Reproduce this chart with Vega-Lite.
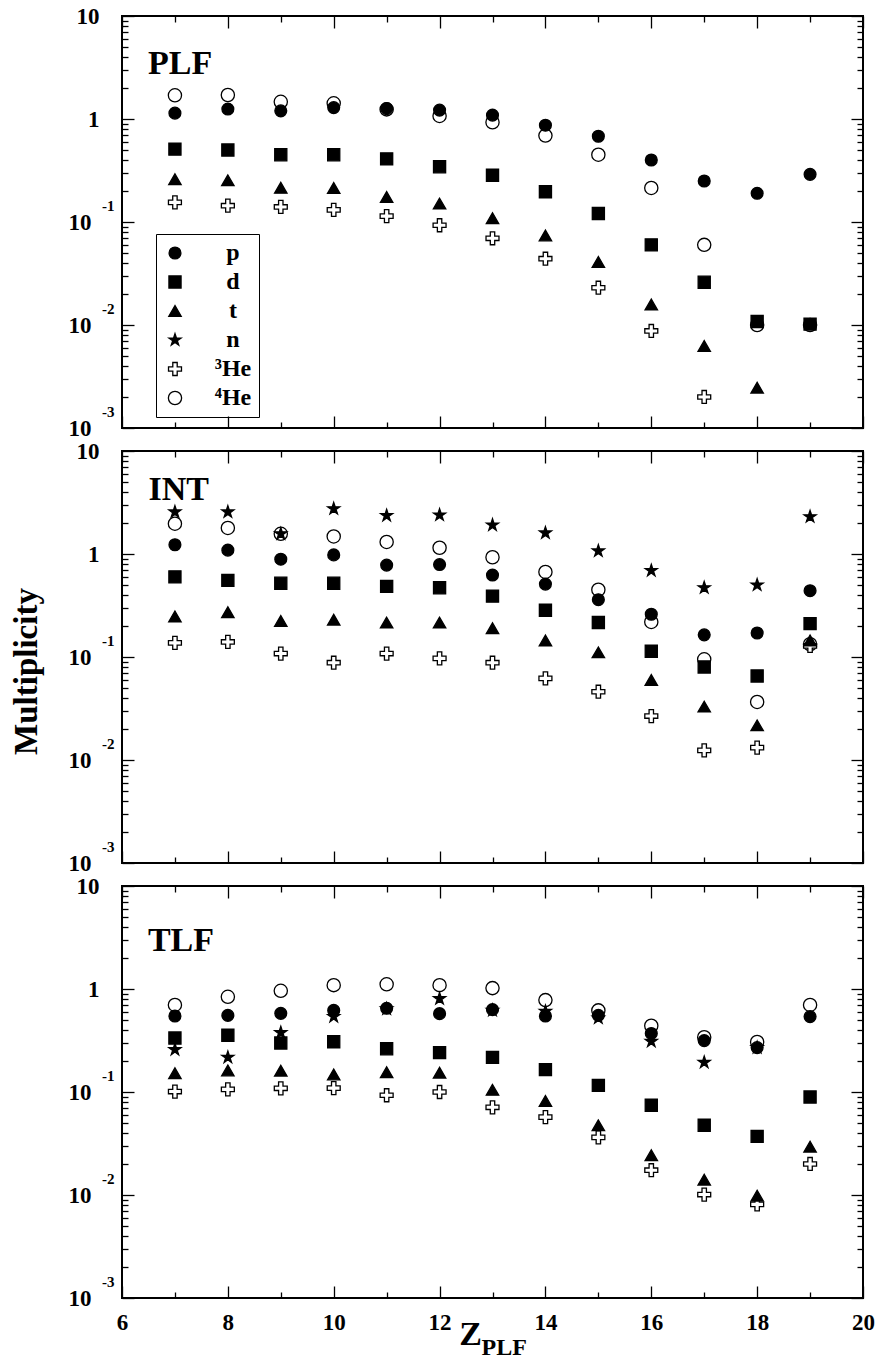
{
"$schema": "https://vega.github.io/schema/vega-lite/v6.json",
"padding": {"left": 9, "top": 4, "right": 4, "bottom": 5},
"bounds": "flush",
"spacing": 23,
"config": {
 "view": {"stroke": "black", "strokeWidth": 2},
 "axis": {"domain": false, "grid": false, "labelFont": "Liberation Serif", "labelFontWeight": "bold", "labelFontSize": 23, "labelColor": "black", "tickColor": "black", "tickWidth": 1.3, "titleFont": "Liberation Serif", "titleFontWeight": "bold", "titleColor": "black", "labelFlush": false, "labelOverlap": false, "labelBound": false}
},
"resolve": {"legend": {"shape": "independent", "fill": "independent", "size": "independent"}},
"datasets": {"pts": [
{"panel":"PLF","particle":"⁴He","z":7,"m":1.70},{"panel":"PLF","particle":"⁴He","z":8,"m":1.71},{"panel":"PLF","particle":"⁴He","z":9,"m":1.47},{"panel":"PLF","particle":"⁴He","z":10,"m":1.42},{"panel":"PLF","particle":"⁴He","z":11,"m":1.24},{"panel":"PLF","particle":"⁴He","z":12,"m":1.07},{"panel":"PLF","particle":"⁴He","z":13,"m":0.93},{"panel":"PLF","particle":"⁴He","z":14,"m":0.69},{"panel":"PLF","particle":"⁴He","z":15,"m":0.45},{"panel":"PLF","particle":"⁴He","z":16,"m":0.214},{"panel":"PLF","particle":"⁴He","z":17,"m":0.060},{"panel":"PLF","particle":"⁴He","z":18,"m":0.0100},{"panel":"PLF","particle":"⁴He","z":19,"m":0.0100},
{"panel":"PLF","particle":"³He","z":7,"m":0.155},{"panel":"PLF","particle":"³He","z":8,"m":0.144},{"panel":"PLF","particle":"³He","z":9,"m":0.140},{"panel":"PLF","particle":"³He","z":10,"m":0.131},{"panel":"PLF","particle":"³He","z":11,"m":0.114},{"panel":"PLF","particle":"³He","z":12,"m":0.093},{"panel":"PLF","particle":"³He","z":13,"m":0.0695},{"panel":"PLF","particle":"³He","z":14,"m":0.044},{"panel":"PLF","particle":"³He","z":15,"m":0.023},{"panel":"PLF","particle":"³He","z":16,"m":0.00875},{"panel":"PLF","particle":"³He","z":17,"m":0.0020},
{"panel":"PLF","particle":"t","z":7,"m":0.26},{"panel":"PLF","particle":"t","z":8,"m":0.254},{"panel":"PLF","particle":"t","z":9,"m":0.215},{"panel":"PLF","particle":"t","z":10,"m":0.214},{"panel":"PLF","particle":"t","z":11,"m":0.175},{"panel":"PLF","particle":"t","z":12,"m":0.151},{"panel":"PLF","particle":"t","z":13,"m":0.109},{"panel":"PLF","particle":"t","z":14,"m":0.074},{"panel":"PLF","particle":"t","z":15,"m":0.041},{"panel":"PLF","particle":"t","z":16,"m":0.0158},{"panel":"PLF","particle":"t","z":17,"m":0.00625},{"panel":"PLF","particle":"t","z":18,"m":0.00246},
{"panel":"PLF","particle":"d","z":7,"m":0.51},{"panel":"PLF","particle":"d","z":8,"m":0.50},{"panel":"PLF","particle":"d","z":9,"m":0.45},{"panel":"PLF","particle":"d","z":10,"m":0.45},{"panel":"PLF","particle":"d","z":11,"m":0.41},{"panel":"PLF","particle":"d","z":12,"m":0.344},{"panel":"PLF","particle":"d","z":13,"m":0.284},{"panel":"PLF","particle":"d","z":14,"m":0.197},{"panel":"PLF","particle":"d","z":15,"m":0.121},{"panel":"PLF","particle":"d","z":16,"m":0.060},{"panel":"PLF","particle":"d","z":17,"m":0.026},{"panel":"PLF","particle":"d","z":18,"m":0.0108},{"panel":"PLF","particle":"d","z":19,"m":0.0102},
{"panel":"PLF","particle":"p","z":7,"m":1.14},{"panel":"PLF","particle":"p","z":8,"m":1.25},{"panel":"PLF","particle":"p","z":9,"m":1.20},{"panel":"PLF","particle":"p","z":10,"m":1.29},{"panel":"PLF","particle":"p","z":11,"m":1.26},{"panel":"PLF","particle":"p","z":12,"m":1.22},{"panel":"PLF","particle":"p","z":13,"m":1.09},{"panel":"PLF","particle":"p","z":14,"m":0.87},{"panel":"PLF","particle":"p","z":15,"m":0.68},{"panel":"PLF","particle":"p","z":16,"m":0.40},{"panel":"PLF","particle":"p","z":17,"m":0.25},{"panel":"PLF","particle":"p","z":18,"m":0.19},{"panel":"PLF","particle":"p","z":19,"m":0.29},
{"panel":"INT","particle":"⁴He","z":7,"m":1.97},{"panel":"INT","particle":"⁴He","z":8,"m":1.79},{"panel":"INT","particle":"⁴He","z":9,"m":1.57},{"panel":"INT","particle":"⁴He","z":10,"m":1.48},{"panel":"INT","particle":"⁴He","z":11,"m":1.31},{"panel":"INT","particle":"⁴He","z":12,"m":1.15},{"panel":"INT","particle":"⁴He","z":13,"m":0.93},{"panel":"INT","particle":"⁴He","z":14,"m":0.67},{"panel":"INT","particle":"⁴He","z":15,"m":0.45},{"panel":"INT","particle":"⁴He","z":16,"m":0.219},{"panel":"INT","particle":"⁴He","z":17,"m":0.095},{"panel":"INT","particle":"⁴He","z":18,"m":0.0366},{"panel":"INT","particle":"⁴He","z":19,"m":0.133},
{"panel":"INT","particle":"³He","z":7,"m":0.137},{"panel":"INT","particle":"³He","z":8,"m":0.140},{"panel":"INT","particle":"³He","z":9,"m":0.108},{"panel":"INT","particle":"³He","z":10,"m":0.088},{"panel":"INT","particle":"³He","z":11,"m":0.108},{"panel":"INT","particle":"³He","z":12,"m":0.097},{"panel":"INT","particle":"³He","z":13,"m":0.088},{"panel":"INT","particle":"³He","z":14,"m":0.062},{"panel":"INT","particle":"³He","z":15,"m":0.046},{"panel":"INT","particle":"³He","z":16,"m":0.0267},{"panel":"INT","particle":"³He","z":17,"m":0.0124},{"panel":"INT","particle":"³He","z":18,"m":0.0132},{"panel":"INT","particle":"³He","z":19,"m":0.128},
{"panel":"INT","particle":"n","z":7,"m":2.56},{"panel":"INT","particle":"n","z":8,"m":2.56},{"panel":"INT","particle":"n","z":9,"m":1.57},{"panel":"INT","particle":"n","z":10,"m":2.75},{"panel":"INT","particle":"n","z":11,"m":2.36},{"panel":"INT","particle":"n","z":12,"m":2.39},{"panel":"INT","particle":"n","z":13,"m":1.91},{"panel":"INT","particle":"n","z":14,"m":1.60},{"panel":"INT","particle":"n","z":15,"m":1.07},{"panel":"INT","particle":"n","z":16,"m":0.69},{"panel":"INT","particle":"n","z":17,"m":0.47},{"panel":"INT","particle":"n","z":18,"m":0.50},{"panel":"INT","particle":"n","z":19,"m":2.30},
{"panel":"INT","particle":"t","z":7,"m":0.248},{"panel":"INT","particle":"t","z":8,"m":0.272},{"panel":"INT","particle":"t","z":9,"m":0.224},{"panel":"INT","particle":"t","z":10,"m":0.230},{"panel":"INT","particle":"t","z":11,"m":0.216},{"panel":"INT","particle":"t","z":12,"m":0.216},{"panel":"INT","particle":"t","z":13,"m":0.190},{"panel":"INT","particle":"t","z":14,"m":0.145},{"panel":"INT","particle":"t","z":15,"m":0.111},{"panel":"INT","particle":"t","z":16,"m":0.0598},{"panel":"INT","particle":"t","z":17,"m":0.033},{"panel":"INT","particle":"t","z":18,"m":0.0217},{"panel":"INT","particle":"t","z":19,"m":0.145},
{"panel":"INT","particle":"d","z":7,"m":0.60},{"panel":"INT","particle":"d","z":8,"m":0.555},{"panel":"INT","particle":"d","z":9,"m":0.52},{"panel":"INT","particle":"d","z":10,"m":0.52},{"panel":"INT","particle":"d","z":11,"m":0.485},{"panel":"INT","particle":"d","z":12,"m":0.47},{"panel":"INT","particle":"d","z":13,"m":0.39},{"panel":"INT","particle":"d","z":14,"m":0.284},{"panel":"INT","particle":"d","z":15,"m":0.216},{"panel":"INT","particle":"d","z":16,"m":0.1135},{"panel":"INT","particle":"d","z":17,"m":0.080},{"panel":"INT","particle":"d","z":18,"m":0.0654},{"panel":"INT","particle":"d","z":19,"m":0.211},
{"panel":"INT","particle":"p","z":7,"m":1.23},{"panel":"INT","particle":"p","z":8,"m":1.09},{"panel":"INT","particle":"p","z":9,"m":0.89},{"panel":"INT","particle":"p","z":10,"m":0.98},{"panel":"INT","particle":"p","z":11,"m":0.78},{"panel":"INT","particle":"p","z":12,"m":0.79},{"panel":"INT","particle":"p","z":13,"m":0.625},{"panel":"INT","particle":"p","z":14,"m":0.51},{"panel":"INT","particle":"p","z":15,"m":0.36},{"panel":"INT","particle":"p","z":16,"m":0.26},{"panel":"INT","particle":"p","z":17,"m":0.164},{"panel":"INT","particle":"p","z":18,"m":0.171},{"panel":"INT","particle":"p","z":19,"m":0.44},
{"panel":"TLF","particle":"⁴He","z":7,"m":0.70},{"panel":"TLF","particle":"⁴He","z":8,"m":0.84},{"panel":"TLF","particle":"⁴He","z":9,"m":0.96},{"panel":"TLF","particle":"⁴He","z":10,"m":1.09},{"panel":"TLF","particle":"⁴He","z":11,"m":1.11},{"panel":"TLF","particle":"⁴He","z":12,"m":1.09},{"panel":"TLF","particle":"⁴He","z":13,"m":1.02},{"panel":"TLF","particle":"⁴He","z":14,"m":0.78},{"panel":"TLF","particle":"⁴He","z":15,"m":0.62},{"panel":"TLF","particle":"⁴He","z":16,"m":0.44},{"panel":"TLF","particle":"⁴He","z":17,"m":0.34},{"panel":"TLF","particle":"⁴He","z":18,"m":0.306},{"panel":"TLF","particle":"⁴He","z":19,"m":0.70},
{"panel":"TLF","particle":"³He","z":7,"m":0.101},{"panel":"TLF","particle":"³He","z":8,"m":0.106},{"panel":"TLF","particle":"³He","z":9,"m":0.1086},{"panel":"TLF","particle":"³He","z":10,"m":0.109},{"panel":"TLF","particle":"³He","z":11,"m":0.093},{"panel":"TLF","particle":"³He","z":12,"m":0.100},{"panel":"TLF","particle":"³He","z":13,"m":0.071},{"panel":"TLF","particle":"³He","z":14,"m":0.057},{"panel":"TLF","particle":"³He","z":15,"m":0.0363},{"panel":"TLF","particle":"³He","z":16,"m":0.0174},{"panel":"TLF","particle":"³He","z":17,"m":0.0101},{"panel":"TLF","particle":"³He","z":18,"m":0.0081},{"panel":"TLF","particle":"³He","z":19,"m":0.020},
{"panel":"TLF","particle":"n","z":7,"m":0.258},{"panel":"TLF","particle":"n","z":8,"m":0.217},{"panel":"TLF","particle":"n","z":9,"m":0.377},{"panel":"TLF","particle":"n","z":10,"m":0.54},{"panel":"TLF","particle":"n","z":11,"m":0.64},{"panel":"TLF","particle":"n","z":12,"m":0.805},{"panel":"TLF","particle":"n","z":13,"m":0.62},{"panel":"TLF","particle":"n","z":14,"m":0.607},{"panel":"TLF","particle":"n","z":15,"m":0.523},{"panel":"TLF","particle":"n","z":16,"m":0.31},{"panel":"TLF","particle":"n","z":17,"m":0.194},{"panel":"TLF","particle":"n","z":18,"m":0.27},
{"panel":"TLF","particle":"t","z":7,"m":0.152},{"panel":"TLF","particle":"t","z":8,"m":0.162},{"panel":"TLF","particle":"t","z":9,"m":0.161},{"panel":"TLF","particle":"t","z":10,"m":0.148},{"panel":"TLF","particle":"t","z":11,"m":0.156},{"panel":"TLF","particle":"t","z":12,"m":0.154},{"panel":"TLF","particle":"t","z":13,"m":0.105},{"panel":"TLF","particle":"t","z":14,"m":0.082},{"panel":"TLF","particle":"t","z":15,"m":0.0475},{"panel":"TLF","particle":"t","z":16,"m":0.0243},{"panel":"TLF","particle":"t","z":17,"m":0.0141},{"panel":"TLF","particle":"t","z":18,"m":0.00986},{"panel":"TLF","particle":"t","z":19,"m":0.0295},
{"panel":"TLF","particle":"d","z":7,"m":0.334},{"panel":"TLF","particle":"d","z":8,"m":0.355},{"panel":"TLF","particle":"d","z":9,"m":0.299},{"panel":"TLF","particle":"d","z":10,"m":0.308},{"panel":"TLF","particle":"d","z":11,"m":0.263},{"panel":"TLF","particle":"d","z":12,"m":0.241},{"panel":"TLF","particle":"d","z":13,"m":0.217},{"panel":"TLF","particle":"d","z":14,"m":0.165},{"panel":"TLF","particle":"d","z":15,"m":0.116},{"panel":"TLF","particle":"d","z":16,"m":0.0743},{"panel":"TLF","particle":"d","z":17,"m":0.0475},{"panel":"TLF","particle":"d","z":18,"m":0.0371},{"panel":"TLF","particle":"d","z":19,"m":0.0894},
{"panel":"TLF","particle":"p","z":7,"m":0.547},{"panel":"TLF","particle":"p","z":8,"m":0.555},{"panel":"TLF","particle":"p","z":9,"m":0.58},{"panel":"TLF","particle":"p","z":10,"m":0.62},{"panel":"TLF","particle":"p","z":11,"m":0.65},{"panel":"TLF","particle":"p","z":12,"m":0.576},{"panel":"TLF","particle":"p","z":13,"m":0.63},{"panel":"TLF","particle":"p","z":14,"m":0.547},{"panel":"TLF","particle":"p","z":15,"m":0.555},{"panel":"TLF","particle":"p","z":16,"m":0.37},{"panel":"TLF","particle":"p","z":17,"m":0.315},{"panel":"TLF","particle":"p","z":18,"m":0.27},{"panel":"TLF","particle":"p","z":19,"m":0.54}
]},
"vconcat": [
{
 "width": 741, "height": 412,
 "data": {"name": "pts"},
 "transform": [{"filter": "datum.panel === 'PLF'"}],
 "resolve": {"axis": {"x": "independent", "y": "independent"}},
 "layer": [
  {"mark": {"type": "point", "filled": true, "stroke": "black", "strokeWidth": 1.3, "opacity": 1},
   "encoding": {
    "x": {"field": "z", "type": "quantitative", "scale": {"domain": [6, 20], "nice": false, "zero": false}, "axis": {"orient": "bottom", "values": [6,8,10,12,14,16,18,20], "tickSize": -12, "labels": false, "title": null}},
    "y": {"field": "m", "type": "quantitative", "scale": {"type": "log", "domain": [0.001, 10], "nice": false}, "axis": {"orient": "left", "values": [10, 1], "ticks": false, "labelExpr": "datum.value > 5 ? '10' : '1'", "labelPadding": 23, "title": null}},
    "shape": {"field": "particle", "type": "nominal", "scale": {"domain": ["p","d","t","n","³He","⁴He"], "range": ["circle","square","triangle-up","M0,-1L0.225,-0.309L0.951,-0.309L0.363,0.118L0.588,0.809L0,0.382L-0.588,0.809L-0.363,0.118L-0.951,-0.309L-0.225,-0.309Z","M-1,-0.34L-0.34,-0.34L-0.34,-1L0.34,-1L0.34,-0.34L1,-0.34L1,0.34L0.34,0.34L0.34,1L-0.34,1L-0.34,0.34L-1,0.34Z","circle"]},
      "legend": {"orient": "none", "legendX": 34, "legendY": 218, "title": null, "strokeColor": "black", "padding": 7, "labelFont": "Liberation Serif", "labelFontWeight": "bold", "labelFontSize": 24, "labelColor": "black", "labelAlign": "center", "labelOffset": 46, "rowPadding": 5, "symbolStrokeColor": "black", "symbolStrokeWidth": 1.3, "symbolOpacity": 1}},
    "fill": {"field": "particle", "type": "nominal", "scale": {"domain": ["p","d","t","n","³He","⁴He"], "range": ["black","black","black","black","white","white"]}},
    "size": {"field": "particle", "type": "nominal", "scale": {"domain": ["p","d","t","n","³He","⁴He"], "range": [140,175,160,121,180,140]}}
   }},
  {"mark": {"type": "point", "opacity": 0},
   "encoding": {
    "x": {"field": "z", "type": "quantitative", "scale": {"domain": [6, 20], "nice": false, "zero": false}, "axis": {"orient": "bottom", "values": [7,9,11,13,15,17,19], "tickSize": -6, "labels": false, "title": null}},
    "y": {"field": "m", "type": "quantitative", "scale": {"type": "log", "domain": [0.001, 10], "nice": false}, "axis": {"orient": "left", "values": [0.1, 0.01, 0.001], "ticks": false, "labelExpr": "'10'", "labelPadding": 31, "title": null}}
   }},
  {"mark": {"type": "point", "opacity": 0},
   "encoding": {
    "x": {"field": "z", "type": "quantitative", "scale": {"domain": [6, 20], "nice": false, "zero": false}, "axis": {"orient": "top", "values": [6,8,10,12,14,16,18,20], "tickSize": -12, "labels": false, "title": null}},
    "y": {"field": "m", "type": "quantitative", "scale": {"type": "log", "domain": [0.001, 10], "nice": false}, "axis": {"orient": "left", "values": [0.1, 0.01, 0.001], "ticks": false, "labelExpr": "datum.value > 0.05 ? '-1' : datum.value > 0.005 ? '-2' : '-3'", "labelFontSize": 15, "labelPadding": 8, "labelOffset": -17, "title": null}}
   }},
  {"mark": {"type": "point", "opacity": 0},
   "encoding": {
    "x": {"field": "z", "type": "quantitative", "scale": {"domain": [6, 20], "nice": false, "zero": false}, "axis": {"orient": "top", "values": [7,9,11,13,15,17,19], "tickSize": -6, "labels": false, "title": null}},
    "y": {"field": "m", "type": "quantitative", "scale": {"type": "log", "domain": [0.001, 10], "nice": false}, "axis": {"orient": "left", "values": [10, 1, 0.1, 0.01, 0.001], "tickSize": -12, "labels": false, "title": null}}
   }},
  {"mark": {"type": "point", "opacity": 0},
   "encoding": {
    "x": {"field": "z", "type": "quantitative", "scale": {"domain": [6, 20], "nice": false, "zero": false}, "axis": null},
    "y": {"field": "m", "type": "quantitative", "scale": {"type": "log", "domain": [0.001, 10], "nice": false}, "axis": {"orient": "left", "values": [0.002,0.003,0.004,0.005,0.006,0.007,0.008,0.009,0.02,0.03,0.04,0.05,0.06,0.07,0.08,0.09,0.2,0.3,0.4,0.5,0.6,0.7,0.8,0.9,2,3,4,5,6,7,8,9], "tickSize": -6, "labels": false, "title": null}}
   }},
  {"mark": {"type": "point", "opacity": 0},
   "encoding": {
    "x": {"field": "z", "type": "quantitative", "scale": {"domain": [6, 20], "nice": false, "zero": false}, "axis": null},
    "y": {"field": "m", "type": "quantitative", "scale": {"type": "log", "domain": [0.001, 10], "nice": false}, "axis": {"orient": "right", "values": [10, 1, 0.1, 0.01, 0.001], "tickSize": -12, "labels": false, "title": null}}
   }},
  {"mark": {"type": "point", "opacity": 0},
   "encoding": {
    "x": {"field": "z", "type": "quantitative", "scale": {"domain": [6, 20], "nice": false, "zero": false}, "axis": null},
    "y": {"field": "m", "type": "quantitative", "scale": {"type": "log", "domain": [0.001, 10], "nice": false}, "axis": {"orient": "right", "values": [0.002,0.003,0.004,0.005,0.006,0.007,0.008,0.009,0.02,0.03,0.04,0.05,0.06,0.07,0.08,0.09,0.2,0.3,0.4,0.5,0.6,0.7,0.8,0.9,2,3,4,5,6,7,8,9], "tickSize": -6, "labels": false, "title": null}}
   }},
  {"data": {"values": [{"panel": "PLF", "label": "PLF"}]},
   "mark": {"type": "text", "align": "left", "baseline": "alphabetic", "font": "Liberation Serif", "fontWeight": "bold", "fontSize": 34, "color": "black"},
   "encoding": {
    "x": {"datum": 6.49, "type": "quantitative", "scale": {"domain": [6, 20], "nice": false, "zero": false}, "axis": null},
    "y": {"datum": 2.73, "type": "quantitative", "scale": {"type": "log", "domain": [0.001, 10], "nice": false}, "axis": null},
    "text": {"field": "label"}
   }}
 ]
},
{
 "width": 741, "height": 412,
 "data": {"name": "pts"},
 "transform": [{"filter": "datum.panel === 'INT'"}],
 "resolve": {"axis": {"x": "independent", "y": "independent"}},
 "layer": [
  {"mark": {"type": "point", "filled": true, "stroke": "black", "strokeWidth": 1.3, "opacity": 1},
   "encoding": {
    "x": {"field": "z", "type": "quantitative", "scale": {"domain": [6, 20], "nice": false, "zero": false}, "axis": {"orient": "bottom", "values": [6,8,10,12,14,16,18,20], "tickSize": -12, "labels": false, "title": null}},
    "y": {"field": "m", "type": "quantitative", "scale": {"type": "log", "domain": [0.001, 10], "nice": false}, "axis": {"orient": "left", "values": [10, 1], "ticks": false, "labelExpr": "datum.value > 5 ? '10' : '1'", "labelPadding": 23, "title": "Multiplicity", "titleFontSize": 33, "titleAngle": -90, "titleX": -86, "titleY": 220, "titleAlign": "center", "titleBaseline": "alphabetic"}},
    "shape": {"field": "particle", "type": "nominal", "scale": {"domain": ["p","d","t","n","³He","⁴He"], "range": ["circle","square","triangle-up","M0,-1L0.225,-0.309L0.951,-0.309L0.363,0.118L0.588,0.809L0,0.382L-0.588,0.809L-0.363,0.118L-0.951,-0.309L-0.225,-0.309Z","M-1,-0.34L-0.34,-0.34L-0.34,-1L0.34,-1L0.34,-0.34L1,-0.34L1,0.34L0.34,0.34L0.34,1L-0.34,1L-0.34,0.34L-1,0.34Z","circle"]}, "legend": null},
    "fill": {"field": "particle", "type": "nominal", "scale": {"domain": ["p","d","t","n","³He","⁴He"], "range": ["black","black","black","black","white","white"]}, "legend": null},
    "size": {"field": "particle", "type": "nominal", "scale": {"domain": ["p","d","t","n","³He","⁴He"], "range": [140,175,160,121,180,140]}, "legend": null}
   }},
  {"mark": {"type": "point", "opacity": 0},
   "encoding": {
    "x": {"field": "z", "type": "quantitative", "scale": {"domain": [6, 20], "nice": false, "zero": false}, "axis": {"orient": "bottom", "values": [7,9,11,13,15,17,19], "tickSize": -6, "labels": false, "title": null}},
    "y": {"field": "m", "type": "quantitative", "scale": {"type": "log", "domain": [0.001, 10], "nice": false}, "axis": {"orient": "left", "values": [0.1, 0.01, 0.001], "ticks": false, "labelExpr": "'10'", "labelPadding": 31, "title": null}}
   }},
  {"mark": {"type": "point", "opacity": 0},
   "encoding": {
    "x": {"field": "z", "type": "quantitative", "scale": {"domain": [6, 20], "nice": false, "zero": false}, "axis": {"orient": "top", "values": [6,8,10,12,14,16,18,20], "tickSize": -12, "labels": false, "title": null}},
    "y": {"field": "m", "type": "quantitative", "scale": {"type": "log", "domain": [0.001, 10], "nice": false}, "axis": {"orient": "left", "values": [0.1, 0.01, 0.001], "ticks": false, "labelExpr": "datum.value > 0.05 ? '-1' : datum.value > 0.005 ? '-2' : '-3'", "labelFontSize": 15, "labelPadding": 8, "labelOffset": -17, "title": null}}
   }},
  {"mark": {"type": "point", "opacity": 0},
   "encoding": {
    "x": {"field": "z", "type": "quantitative", "scale": {"domain": [6, 20], "nice": false, "zero": false}, "axis": {"orient": "top", "values": [7,9,11,13,15,17,19], "tickSize": -6, "labels": false, "title": null}},
    "y": {"field": "m", "type": "quantitative", "scale": {"type": "log", "domain": [0.001, 10], "nice": false}, "axis": {"orient": "left", "values": [10, 1, 0.1, 0.01, 0.001], "tickSize": -12, "labels": false, "title": null}}
   }},
  {"mark": {"type": "point", "opacity": 0},
   "encoding": {
    "x": {"field": "z", "type": "quantitative", "scale": {"domain": [6, 20], "nice": false, "zero": false}, "axis": null},
    "y": {"field": "m", "type": "quantitative", "scale": {"type": "log", "domain": [0.001, 10], "nice": false}, "axis": {"orient": "left", "values": [0.002,0.003,0.004,0.005,0.006,0.007,0.008,0.009,0.02,0.03,0.04,0.05,0.06,0.07,0.08,0.09,0.2,0.3,0.4,0.5,0.6,0.7,0.8,0.9,2,3,4,5,6,7,8,9], "tickSize": -6, "labels": false, "title": null}}
   }},
  {"mark": {"type": "point", "opacity": 0},
   "encoding": {
    "x": {"field": "z", "type": "quantitative", "scale": {"domain": [6, 20], "nice": false, "zero": false}, "axis": null},
    "y": {"field": "m", "type": "quantitative", "scale": {"type": "log", "domain": [0.001, 10], "nice": false}, "axis": {"orient": "right", "values": [10, 1, 0.1, 0.01, 0.001], "tickSize": -12, "labels": false, "title": null}}
   }},
  {"mark": {"type": "point", "opacity": 0},
   "encoding": {
    "x": {"field": "z", "type": "quantitative", "scale": {"domain": [6, 20], "nice": false, "zero": false}, "axis": null},
    "y": {"field": "m", "type": "quantitative", "scale": {"type": "log", "domain": [0.001, 10], "nice": false}, "axis": {"orient": "right", "values": [0.002,0.003,0.004,0.005,0.006,0.007,0.008,0.009,0.02,0.03,0.04,0.05,0.06,0.07,0.08,0.09,0.2,0.3,0.4,0.5,0.6,0.7,0.8,0.9,2,3,4,5,6,7,8,9], "tickSize": -6, "labels": false, "title": null}}
   }},
  {"data": {"values": [{"panel": "INT", "label": "INT"}]},
   "mark": {"type": "text", "align": "left", "baseline": "alphabetic", "font": "Liberation Serif", "fontWeight": "bold", "fontSize": 34, "color": "black"},
   "encoding": {
    "x": {"datum": 6.5, "type": "quantitative", "scale": {"domain": [6, 20], "nice": false, "zero": false}, "axis": null},
    "y": {"datum": 3.34, "type": "quantitative", "scale": {"type": "log", "domain": [0.001, 10], "nice": false}, "axis": null},
    "text": {"field": "label"}
   }}
 ]
},
{
 "width": 741, "height": 412,
 "data": {"name": "pts"},
 "transform": [{"filter": "datum.panel === 'TLF'"}],
 "resolve": {"axis": {"x": "independent", "y": "independent"}},
 "layer": [
  {"mark": {"type": "point", "filled": true, "stroke": "black", "strokeWidth": 1.3, "opacity": 1},
   "encoding": {
    "x": {"field": "z", "type": "quantitative", "scale": {"domain": [6, 20], "nice": false, "zero": false}, "axis": {"orient": "bottom", "values": [6,8,10,12,14,16,18,20], "ticks": false, "labelPadding": 13, "title": "Z", "titleFontSize": 34, "titleX": 348, "titleY": 46, "titleAlign": "center", "titleBaseline": "alphabetic"}},
    "y": {"field": "m", "type": "quantitative", "scale": {"type": "log", "domain": [0.001, 10], "nice": false}, "axis": {"orient": "left", "values": [10, 1], "ticks": false, "labelExpr": "datum.value > 5 ? '10' : '1'", "labelPadding": 23, "title": null}},
    "shape": {"field": "particle", "type": "nominal", "scale": {"domain": ["p","d","t","n","³He","⁴He"], "range": ["circle","square","triangle-up","M0,-1L0.225,-0.309L0.951,-0.309L0.363,0.118L0.588,0.809L0,0.382L-0.588,0.809L-0.363,0.118L-0.951,-0.309L-0.225,-0.309Z","M-1,-0.34L-0.34,-0.34L-0.34,-1L0.34,-1L0.34,-0.34L1,-0.34L1,0.34L0.34,0.34L0.34,1L-0.34,1L-0.34,0.34L-1,0.34Z","circle"]}, "legend": null},
    "fill": {"field": "particle", "type": "nominal", "scale": {"domain": ["p","d","t","n","³He","⁴He"], "range": ["black","black","black","black","white","white"]}, "legend": null},
    "size": {"field": "particle", "type": "nominal", "scale": {"domain": ["p","d","t","n","³He","⁴He"], "range": [140,175,160,121,180,140]}, "legend": null}
   }},
  {"mark": {"type": "point", "opacity": 0},
   "encoding": {
    "x": {"field": "z", "type": "quantitative", "scale": {"domain": [6, 20], "nice": false, "zero": false}, "axis": {"orient": "bottom", "values": [6,8,10,12,14,16,18,20], "tickSize": -12, "labels": false, "title": null}},
    "y": {"field": "m", "type": "quantitative", "scale": {"type": "log", "domain": [0.001, 10], "nice": false}, "axis": {"orient": "left", "values": [0.1, 0.01, 0.001], "ticks": false, "labelExpr": "'10'", "labelPadding": 31, "title": null}}
   }},
  {"mark": {"type": "point", "opacity": 0},
   "encoding": {
    "x": {"field": "z", "type": "quantitative", "scale": {"domain": [6, 20], "nice": false, "zero": false}, "axis": {"orient": "bottom", "values": [7,9,11,13,15,17,19], "tickSize": -6, "labels": false, "title": "PLF", "titleFontSize": 24, "titleX": 359, "titleY": 56, "titleAlign": "left", "titleBaseline": "alphabetic"}},
    "y": {"field": "m", "type": "quantitative", "scale": {"type": "log", "domain": [0.001, 10], "nice": false}, "axis": {"orient": "left", "values": [0.1, 0.01, 0.001], "ticks": false, "labelExpr": "datum.value > 0.05 ? '-1' : datum.value > 0.005 ? '-2' : '-3'", "labelFontSize": 15, "labelPadding": 8, "labelOffset": -17, "title": null}}
   }},
  {"mark": {"type": "point", "opacity": 0},
   "encoding": {
    "x": {"field": "z", "type": "quantitative", "scale": {"domain": [6, 20], "nice": false, "zero": false}, "axis": {"orient": "top", "values": [6,8,10,12,14,16,18,20], "tickSize": -12, "labels": false, "title": null}},
    "y": {"field": "m", "type": "quantitative", "scale": {"type": "log", "domain": [0.001, 10], "nice": false}, "axis": {"orient": "left", "values": [10, 1, 0.1, 0.01, 0.001], "tickSize": -12, "labels": false, "title": null}}
   }},
  {"mark": {"type": "point", "opacity": 0},
   "encoding": {
    "x": {"field": "z", "type": "quantitative", "scale": {"domain": [6, 20], "nice": false, "zero": false}, "axis": {"orient": "top", "values": [7,9,11,13,15,17,19], "tickSize": -6, "labels": false, "title": null}},
    "y": {"field": "m", "type": "quantitative", "scale": {"type": "log", "domain": [0.001, 10], "nice": false}, "axis": {"orient": "left", "values": [0.002,0.003,0.004,0.005,0.006,0.007,0.008,0.009,0.02,0.03,0.04,0.05,0.06,0.07,0.08,0.09,0.2,0.3,0.4,0.5,0.6,0.7,0.8,0.9,2,3,4,5,6,7,8,9], "tickSize": -6, "labels": false, "title": null}}
   }},
  {"mark": {"type": "point", "opacity": 0},
   "encoding": {
    "x": {"field": "z", "type": "quantitative", "scale": {"domain": [6, 20], "nice": false, "zero": false}, "axis": null},
    "y": {"field": "m", "type": "quantitative", "scale": {"type": "log", "domain": [0.001, 10], "nice": false}, "axis": {"orient": "right", "values": [10, 1, 0.1, 0.01, 0.001], "tickSize": -12, "labels": false, "title": null}}
   }},
  {"mark": {"type": "point", "opacity": 0},
   "encoding": {
    "x": {"field": "z", "type": "quantitative", "scale": {"domain": [6, 20], "nice": false, "zero": false}, "axis": null},
    "y": {"field": "m", "type": "quantitative", "scale": {"type": "log", "domain": [0.001, 10], "nice": false}, "axis": {"orient": "right", "values": [0.002,0.003,0.004,0.005,0.006,0.007,0.008,0.009,0.02,0.03,0.04,0.05,0.06,0.07,0.08,0.09,0.2,0.3,0.4,0.5,0.6,0.7,0.8,0.9,2,3,4,5,6,7,8,9], "tickSize": -6, "labels": false, "title": null}}
   }},
  {"data": {"values": [{"panel": "TLF", "label": "TLF"}]},
   "mark": {"type": "text", "align": "left", "baseline": "alphabetic", "font": "Liberation Serif", "fontWeight": "bold", "fontSize": 34, "color": "black"},
   "encoding": {
    "x": {"datum": 6.49, "type": "quantitative", "scale": {"domain": [6, 20], "nice": false, "zero": false}, "axis": null},
    "y": {"datum": 2.34, "type": "quantitative", "scale": {"type": "log", "domain": [0.001, 10], "nice": false}, "axis": null},
    "text": {"field": "label"}
   }}
 ]
}
]
}
